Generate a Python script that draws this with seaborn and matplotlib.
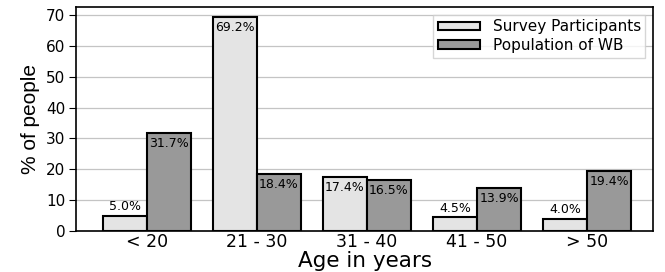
import pandas as pd
import matplotlib
matplotlib.use("Agg")
import matplotlib.pyplot as plt
import seaborn as sns

# Data
age_groups = ['< 20', '21 - 30', '31 - 40', '41 - 50', '> 50']
survey_pct = [5.0, 69.2, 17.4, 4.5, 4.0]
population_pct = [31.7, 18.4, 16.5, 13.9, 19.4]
series_names = ['Survey Participants', 'Population of WB']

df = pd.DataFrame({
    'age': age_groups * 2,
    'pct': survey_pct + population_pct,
    'group': [series_names[0]] * len(age_groups) + [series_names[1]] * len(age_groups),
})

sns.set_style('whitegrid')
plt.rcParams['font.family'] = ['DejaVu Sans']
plt.rcParams['text.color'] = 'black'
plt.rcParams['axes.labelcolor'] = 'black'
plt.rcParams['xtick.color'] = 'black'
plt.rcParams['ytick.color'] = 'black'

fig, ax = plt.subplots(figsize=(6.65, 2.72), dpi=100)
sns.barplot(data=df, x='age', y='pct', hue='group', order=age_groups,
            hue_order=series_names, palette=['#e4e4e4', '#999999'],
            edgecolor='black', linewidth=1.5, width=0.8, ax=ax)

# value labels: above short bars, just inside taller ones
for container in ax.containers:
    for bar in container:
        h = bar.get_height()
        y = h + 3 if h < 10 else h - 3.2
        ax.text(bar.get_x() + bar.get_width() / 2, y, f'{h:.1f}%',
                ha='center', va='center', fontsize=9)

ax.set_xlim(-0.64, 4.6)
ax.set_ylim(0, 72.5)
ax.set_yticks(range(0, 71, 10))
ax.grid(axis='y', color='#c4c4c4', linewidth=0.9)
ax.grid(axis='x', visible=False)
ax.set_axisbelow(True)
for s in ax.spines.values():
    s.set_color('black')
    s.set_linewidth(1.2)
ax.tick_params(axis='y', length=5, labelsize=11, left=True, pad=3)
ax.tick_params(axis='x', length=0, labelsize=12.5, pad=1)

ax.set_xlabel('Age in years', fontsize=15.5, labelpad=0)
ax.set_ylabel('% of people', fontsize=15, family=['Liberation Sans', 'DejaVu Sans'], labelpad=4)

leg = ax.legend(loc='upper right', fontsize=11, frameon=True, handlelength=2.8,
                handleheight=0.5, borderaxespad=0.5, fancybox=False,
                labelspacing=0.25, borderpad=0.3)
leg.get_frame().set_edgecolor('#cccccc')
leg.set_title(None)

plt.subplots_adjust(left=0.115, right=0.982, top=0.974, bottom=0.15)
plt.savefig('out.png', dpi=100)
